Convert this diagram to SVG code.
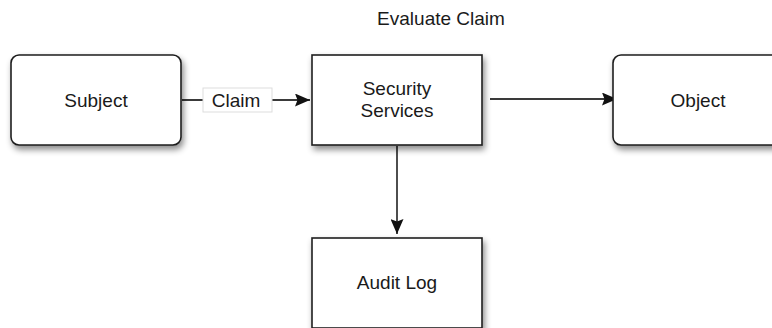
<svg xmlns="http://www.w3.org/2000/svg" width="772" height="328" viewBox="0 0 772 328">
  <style>
    .box { fill: #ffffff; stroke: #1e1e1e; stroke-width: 1.6; filter: url(#shadow); }
    .label { font-family: "Liberation Sans", Arial, sans-serif; font-size: 19px; fill: #1a1a1a; text-anchor: middle; }
    .edge { fill: none; stroke: #3a3a3a; stroke-width: 1.8; }
  </style>
  <defs>
    <filter id="shadow" x="-20%" y="-20%" width="150%" height="160%">
      <feDropShadow dx="2" dy="4" stdDeviation="3" flood-color="#000000" flood-opacity="0.45"/>
    </filter>
    <marker id="arrow" viewBox="0 0 15 13" refX="15" refY="6.5" markerWidth="15" markerHeight="13" markerUnits="userSpaceOnUse" orient="auto">
      <path d="M0,0 L15,6.5 L0,13 L2.5,6.5 Z" fill="#111111"/>
    </marker>
  </defs>

  <!-- diagram title -->
  <text class="label" x="441" y="25">Evaluate Claim</text>

  <!-- connectors -->
  <g id="connectors">
    <line class="edge" x1="182" y1="100" x2="310" y2="100" stroke="#555555" marker-end="url(#arrow)"/>
    <line class="edge" x1="490" y1="99" x2="617" y2="99" marker-end="url(#arrow)"/>
    <line class="edge" x1="397" y1="146" x2="397" y2="234" marker-end="url(#arrow)"/>
    <g id="claim-label">
      <rect x="203" y="88" width="69" height="24" fill="#ffffff" stroke="#dddddd" stroke-width="1"/>
      <text class="label" x="236" y="106.5">Claim</text>
    </g>
  </g>

  <g id="subject">
    <rect class="box" x="11" y="55" width="170" height="90" rx="8" ry="8"/>
    <text class="label" x="96" y="106.5">Subject</text>
  </g>

  <g id="security-services">
    <rect class="box" x="312" y="55" width="170" height="90"/>
    <text class="label" x="397" y="95">Security</text>
    <text class="label" x="397" y="117">Services</text>
  </g>

  <g id="object">
    <rect class="box" x="613" y="55" width="170" height="90" rx="8" ry="8"/>
    <text class="label" x="698" y="106.5">Object</text>
  </g>

  <g id="audit-log">
    <rect class="box" x="312" y="238" width="170" height="90"/>
    <text class="label" x="397" y="289">Audit Log</text>
  </g>
</svg>
